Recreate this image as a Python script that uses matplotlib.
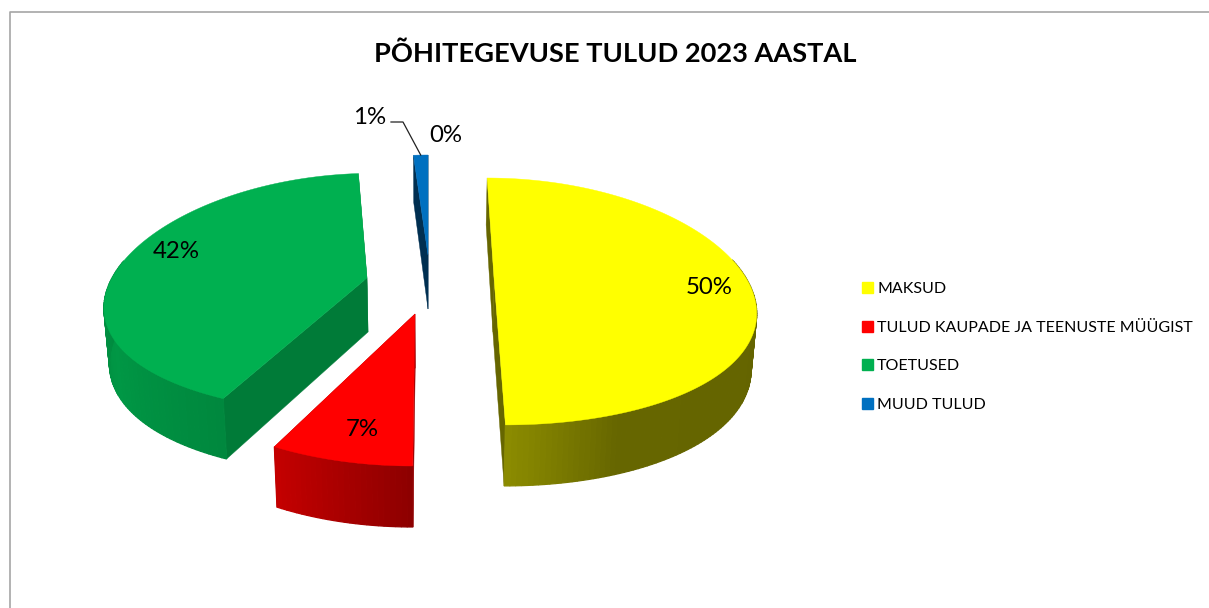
import numpy as np
import matplotlib
matplotlib.use("Agg")
import matplotlib.pyplot as plt
from matplotlib.patches import Polygon, Patch

plt.rcParams['font.family'] = ['Lato', 'DejaVu Sans']

title = 'PÕHITEGEVUSE TULUD 2023 AASTAL'
categories = ['MAKSUD', 'TULUD KAUPADE JA TEENUSTE MÜÜGIST', 'TOETUSED', 'MUUD TULUD']
shares = [50.0, 7.0, 41.85, 1.15]
pct_labels = ['50%', '7%', '42%', '1%']
last_label = '0%'
colors = ['#FFFF00', '#FF0000', '#00B050', '#0070C0']

# slice centres on the canvas (exploded pie), pixels
centres = [(494, 278), (415, 314), (367, 278), (428, 255)]
label_pos = [(709, 287), (362, 429), (176, 252), (370, 117)]

# each slice sits at its own place in the perspective
persp_y = [0.19, 0.273, 0.127, 0.19]
radius_y = [119, 110.5, 118, 119]
persp_x = [0.25, 0.25, 0.216, 0.25]
radius_x = [252, 252, 255, 252]
cut_dark = [0.40, 0.60, 0.70, 0.42]

VX = 428            # vanishing x
SHEAR = 0.13
DEPTH = 54
SHRINK = 0.983

# wall brightness against angle
shade_t = [0, 90, 160, 180, 205, 240, 270, 300, 360]
shade_f = [0.39, 0.39, 0.40, 0.55, 0.77, 0.86, 0.78, 0.72, 0.70]


def top_pt(c, t, g):
    x, y = np.sin(t), np.cos(t)
    sx = c[0] + (x * g['rx'] + SHEAR * (VX - c[0]) * y) / (1 + g['px'] * y)
    sy = c[1] - y * g['ry'] / (1 + g['py'] * y)
    return sx, sy


def low_pt(c, t, g):
    sx, sy = top_pt(c, t, g)
    return VX + (sx - VX) * SHRINK, sy + DEPTH - 7 * np.cos(t)


def centre_low(c):
    return VX + (c[0] - VX) * SHRINK, c[1] + DEPTH


def scale_col(col, f):
    rgb = np.array(matplotlib.colors.to_rgb(col))
    return tuple(rgb * f)


def draw_slice(ax, c, a0, a1, col, g, dark_f):
    ts = np.linspace(a0, a1, max(int((a1 - a0) * 180 / np.pi), 2) + 1)
    dark = scale_col(col, dark_f)
    # cut faces
    for t in (a0, a1):
        q = [c, top_pt(c, t, g), low_pt(c, t, g), centre_low(c)]
        ax.add_patch(Polygon(q, fc=dark, ec=dark, lw=0.3))
    # outer wall, thin strips
    for t0, t1 in zip(ts[:-1], ts[1:]):
        if np.cos((t0 + t1) / 2) > 0.15:
            continue
        f = np.interp(np.degrees((t0 + t1) / 2), shade_t, shade_f)
        wc = scale_col(col, f)
        q = [top_pt(c, t0, g), top_pt(c, t1, g), low_pt(c, t1, g), low_pt(c, t0, g)]
        ax.add_patch(Polygon(q, fc=wc, ec=wc, lw=0.9))
    # top face
    q = [c] + [top_pt(c, t, g) for t in ts]
    ax.add_patch(Polygon(q, fc=col, ec=col, lw=0.3))


fig = plt.figure(figsize=(12.09, 6.08), dpi=100)
ax = fig.add_axes([0, 0, 1, 1])
ax.set_xlim(0, 1209)
ax.set_ylim(608, 0)
ax.axis('off')

# chart frame
ax.plot([9.5, 9.5, 1209], [608, 11.5, 11.5], color='#A6A6A6', lw=1.2)

start = 0.0
for i, share in enumerate(shares):
    end = start + share / 100 * 2 * np.pi
    geom = {'rx': radius_x[i], 'ry': radius_y[i], 'px': persp_x[i], 'py': persp_y[i]}
    draw_slice(ax, centres[i], start, end, colors[i], geom, cut_dark[i])
    start = end

for txt, pos in zip(pct_labels, label_pos):
    ax.text(pos[0], pos[1], txt, ha='center', va='center', fontsize=17.3, color='black')
ax.text(446, 135, last_label, ha='center', va='center', fontsize=17.3, color='black')

# leader line for the smallest slice (geom is the last slice here)
blue_mid = 2 * np.pi * (1 - shares[3] / 200)
lx, ly = top_pt(centres[3], blue_mid, geom)
ax.plot([391, 403, lx], [122, 122, ly], color='#222222', lw=0.9)

ax.text(615, 53.5, title, ha='center', va='center', fontsize=19.6, fontweight='bold', color='black')

handles = [Patch(fc=c, ec=c) for c in colors]
ax.legend(handles, categories, loc='center left', bbox_to_anchor=(0.713, 0.4293),
          frameon=False, fontsize=11.55, handlelength=0.685, handleheight=0.685,
          handletextpad=0.25, labelspacing=1.515, borderpad=0, borderaxespad=0)

plt.savefig('out.png', dpi=100)
